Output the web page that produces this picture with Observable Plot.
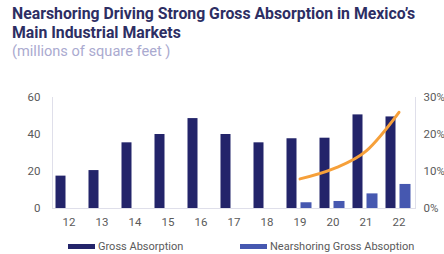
<!DOCTYPE html>
<html>
<head>
<meta charset="utf-8">
<script src="https://cdn.jsdelivr.net/npm/d3@7"></script>
<script src="https://cdn.jsdelivr.net/npm/@observablehq/plot@0.6"></script>
<style>
  html, body { margin: 0; padding: 0; background: #fff; width: 444px; height: 254px; overflow: hidden; }
  body { font-family: "Roboto", "Noto Sans", sans-serif; position: relative; }
  #title { position: absolute; left: 12px; top: 5px; font-weight: 700; font-size: 15.8px; line-height: 18.5px; color: #2d2e63; white-space: nowrap; }
  #sub { position: absolute; left: 12px; top: 43px; font-size: 14.6px; line-height: 17px; color: #aaaad0; white-space: nowrap; }
  #chart { position: absolute; left: 0; top: 62px; }
  #legend { position: absolute; left: 0; top: 239px; width: 444px; height: 14px; font-size: 11px; color: #5a5a5a; }
  .item { position: absolute; top: 0; display: flex; align-items: center; height: 14px; }
  .sw { width: 27px; height: 5px; margin-right: 3px; }
</style>
</head>
<body>
<div id="title">Nearshoring Driving Strong Gross Absorption in Mexico’s<br>Main Industrial Markets</div>
<div id="sub">(millions of square feet )</div>
<div id="chart"></div>
<div id="legend"></div>
<script>
const years = ["12","13","14","15","16","17","18","19","20","21","22"];
const gross = [17.5, 20.5, 35.5, 40, 48.6, 40, 35.5, 37.7, 38, 50.6, 49.5];
const nearYears = ["19","20","21","22"];
const nearshoring = [3.1, 3.8, 7.9, 13];
const sharePct = [8, 10.7, 15.5, 26];
const leftTicks = [0, 20, 40, 60];
const rightTicks = [0, 10, 20, 30];
const seriesNames = ["Gross Absorption", "Nearshoring Gross Absoption"];
const colors = ["#23246a", "#4658b0"];
const lineColor = "#f6a03a";

const grossData = years.map((y, i) => ({year: y, value: gross[i]}));
const nearData = nearYears.map((y, i) => ({year: y, value: nearshoring[i], pct: sharePct[i]}));

const chart = Plot.plot({
  width: 444,
  height: 174,
  marginLeft: 52,
  marginRight: 29,
  marginTop: 35,
  marginBottom: 28,
  style: {fontFamily: "Roboto, 'Noto Sans', sans-serif", fontSize: "11.5px", color: "#5a5a5a", background: "transparent"},
  x: {type: "band", domain: years, padding: 0, label: null},
  y: {domain: [0, 60], label: null},
  marks: [
    Plot.frame({anchor: "left", stroke: "#dfdfea"}),
    Plot.frame({anchor: "right", stroke: "#dfdfea"}),
    Plot.ruleY([0], {stroke: "#dfdfea"}),
    Plot.barY(grossData, {x: "year", y: "value", fill: colors[0], insetLeft: 3.5, insetRight: 19.5}),
    Plot.barY(nearData, {x: "year", y: "value", fill: colors[1], insetLeft: 17.5, insetRight: 4.5}),
    Plot.lineY(nearData, {x: "year", y: d => d.pct * 2, stroke: lineColor, strokeWidth: 3, curve: "monotone-x"}),
    Plot.axisX({tickSize: 0, tickPadding: 9, label: null, fill: "#5a5a5a"}),
    Plot.axisY({anchor: "left", ticks: leftTicks, tickSize: 0, tickPadding: 12, label: null, fill: "#5a5a5a"}),
    Plot.axisY({anchor: "right", ticks: rightTicks.map(t => t * 2), tickFormat: d => (d / 2) + "%", tickSize: 0, tickPadding: 8, label: null, fill: "#5a5a5a"})
  ]
});
document.getElementById("chart").appendChild(chart);

const legend = document.getElementById("legend");
const lefts = [68, 240];
seriesNames.forEach((n, i) => {
  const it = document.createElement("div");
  it.className = "item";
  it.style.left = lefts[i] + "px";
  it.innerHTML = `<span class="sw" style="background:${colors[i]}"></span><span>${n}</span>`;
  legend.appendChild(it);
});
</script>
</body>
</html>
